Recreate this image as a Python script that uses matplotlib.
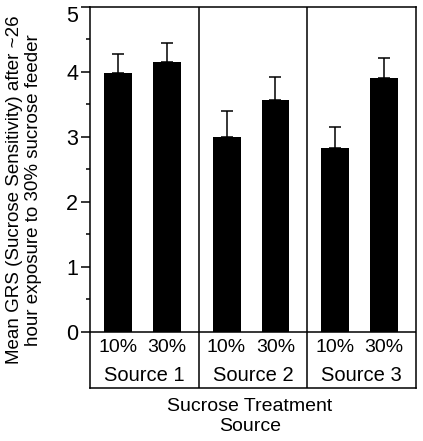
import numpy as np
import matplotlib
matplotlib.use('Agg')
import matplotlib.pyplot as plt
import matplotlib.transforms as mtransforms

plt.rcParams['font.family'] = ['Liberation Sans', 'DejaVu Sans']

sources = ['Source 1', 'Source 2', 'Source 3']
treatments = ['10%', '30%']
# mean GRS per source, in order 10%, 30%
means = [[3.98, 4.15], [3.00, 3.575], [2.83, 3.90]]
errs = [[0.30, 0.30], [0.40, 0.345], [0.32, 0.31]]

panel_w = 3.0
offsets = [0.77, 2.12]
bar_w = 0.77
y_bottom = -0.867

fig = plt.figure(figsize=(4.23, 4.41), dpi=100)
ax = fig.add_axes([90 / 423, 1 - 388 / 441, 326 / 423, 381 / 441])

for i, src in enumerate(sources):
    x0 = i * panel_w
    xs = [x0 + o for o in offsets]
    ax.bar(xs, means[i], width=bar_w, color='black', zorder=2)
    ax.errorbar(xs, means[i], yerr=[np.zeros(2), errs[i]], fmt='none',
                ecolor='black', elinewidth=1.1, capsize=4, capthick=1.1, zorder=1)
    for x, t in zip(xs, treatments):
        ax.text(x, -0.25, t, ha='center', va='center', fontsize=14)
    ax.text(x0 + panel_w / 2, -0.667, src, ha='center', va='center', fontsize=14.5)
    if i > 0:
        ax.axvline(x0, color='black', lw=1.1)

ax.axhline(0, color='black', lw=1.1)
ax.set_xlim(0, panel_w * len(sources))
ax.set_ylim(y_bottom, 5)
ax.set_yticks([0, 1, 2, 3, 4, 5])
ax.set_yticks(np.arange(0.5, 5, 1), minor=True)
ax.tick_params(axis='y', which='major', length=6.5, width=1.1, labelsize=15.5, pad=2)
ax.tick_params(axis='y', which='minor', length=3, width=1.1)
ax.set_xticks([])
for s in ax.spines.values():
    s.set_linewidth(1.1)

# top label sits a little below its tick so it is not clipped
top_lbl = ax.get_yticklabels()[-1]
top_lbl.set_transform(top_lbl.get_transform() +
                      mtransforms.ScaledTranslation(0, -5 / 72, fig.dpi_scale_trans))

fig.text(24 / 423, 1 - 190 / 441,
         'Mean GRS (Sucrose Sensitivity) after ~26\nhour exposure to 30% sucrose feeder',
         rotation=90, ha='center', va='center', fontsize=13.5, linespacing=1.1)
fig.text(250 / 423, 1 - 416.5 / 441, 'Sucrose Treatment\nSource',
         ha='center', va='center', fontsize=14, linespacing=1.2)

fig.savefig('out.png', dpi=100)
